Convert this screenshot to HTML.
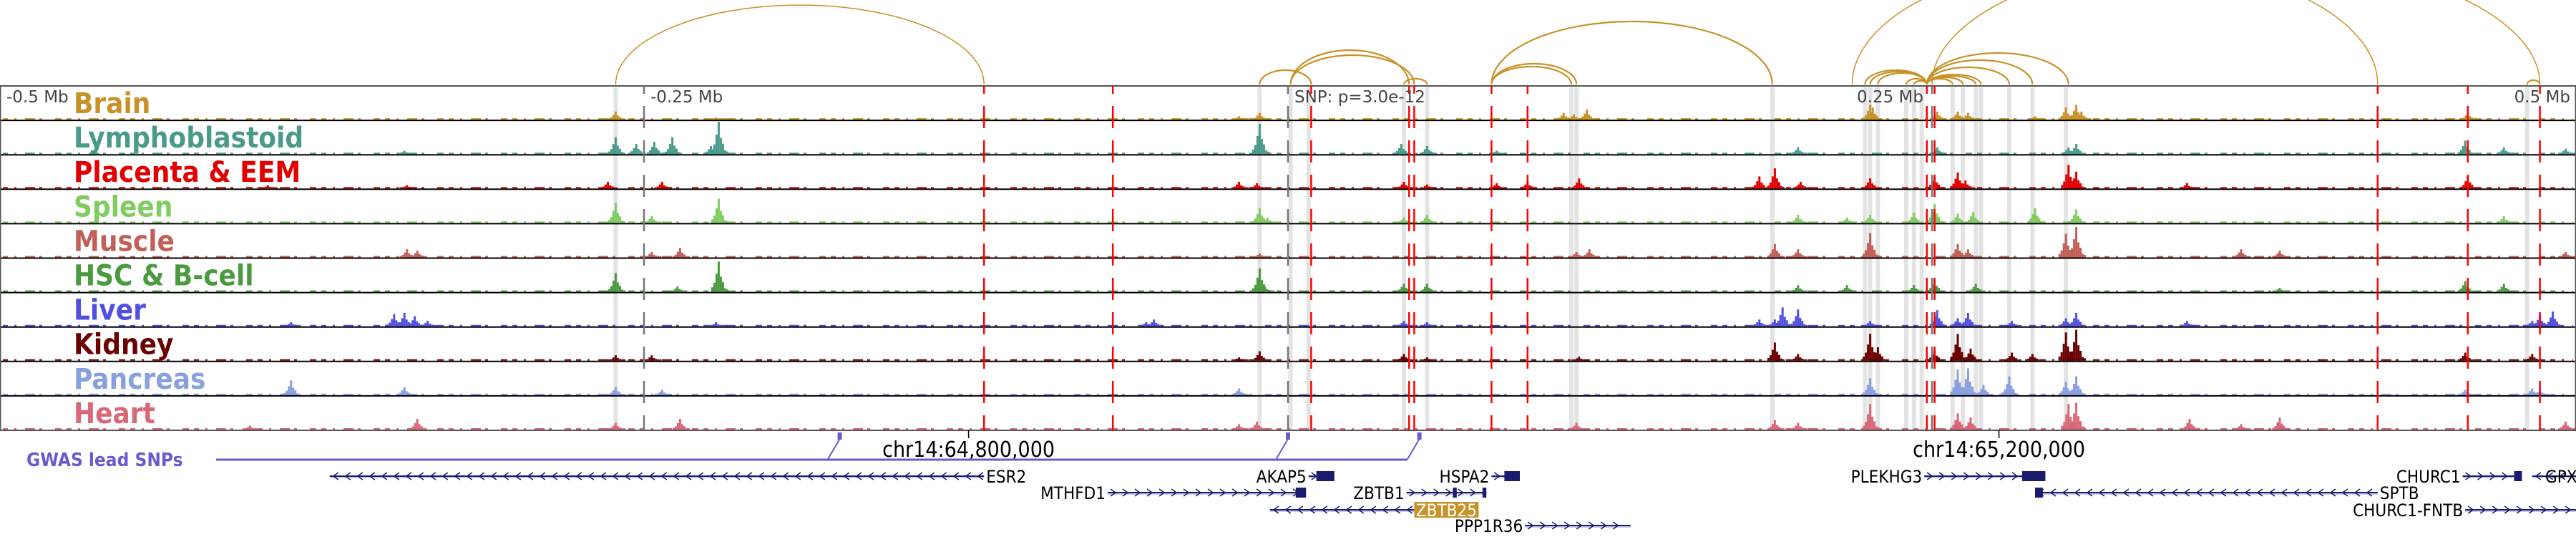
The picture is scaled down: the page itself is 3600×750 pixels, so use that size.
<!DOCTYPE html>
<html><head><meta charset="utf-8">
<style>
html,body{margin:0;padding:0;background:#fff;width:3600px;height:750px;overflow:hidden}
svg{display:block}
.tl{font-family:"DejaVu Sans Condensed","DejaVu Sans","Liberation Sans",sans-serif;font-weight:bold;font-size:40px}
.ax{font-family:"DejaVu Sans","Liberation Sans",sans-serif;font-size:23px;fill:#444}
.gn{font-family:"DejaVu Sans Condensed","DejaVu Sans","Liberation Sans",sans-serif;font-size:24px;fill:#000}
</style></head><body>
<svg id="fig" width="3600" height="750" viewBox="0 0 3600 750" xmlns="http://www.w3.org/2000/svg">
</svg>
<script>
// ---- data (positions in kb relative to lead SNP, heights in signal units 0-48) ----
const trackNames = ["Brain","Lymphoblastoid","Placenta & EEM","Spleen","Muscle","HSC & B-cell","Liver","Kidney","Pancreas","Heart"];
const trackColors = ["#c8922a","#4a9a8a","#e00000","#80cc60","#c06058","#4a9a40","#5050e0","#6a0000","#88a0e0","#d86878"];
const brainPeaks = [[-261,12],[-222,3],[-19,5],[-11,10],[107,10],[111,8],[116,15],[226,22],[227,18],[252,12],[260,12],[264,10],[290,5],[302,18],[306,22],[308,12],[458,10]];
const lymphoPeaks = [[-343,5],[-261,25],[-253,15],[-246,18],[-239,25],[-224,12],[-221,48],[-11,45],[44,15],[54,12],[81,5],[198,10],[252,10],[303,10],[306,15],[457,20],[472,10],[496,8]];
const placentaPeaks = [[-396,5],[-342,5],[-264,10],[-243,10],[-19,10],[-12,8],[45,10],[54,6],[81,8],[93,10],[113,15],[183,18],[189,30],[199,10],[226,15],[251,18],[260,24],[263,12],[303,35],[306,25],[349,8],[458,18]];
const spleenPeaks = [[-261,30],[-247,10],[-221,36],[-11,22],[-8,8],[45,8],[54,12],[198,12],[217,8],[226,12],[243,15],[251,28],[260,14],[266,16],[290,22],[306,20],[472,10]];
const musclePeaks = [[-342,12],[-338,10],[-247,8],[-236,14],[-11,6],[112,8],[117,12],[189,20],[198,12],[226,36],[260,20],[264,12],[302,35],[306,45],[370,12],[385,10],[496,8]];
const hscPeaks = [[-261,28],[-237,8],[-221,45],[-11,35],[-9,8],[45,12],[54,12],[198,10],[217,10],[243,10],[251,18],[267,12],[385,6],[457,16],[472,12]];
const liverPeaks = [[-387,6],[-347,18],[-343,20],[-339,15],[-334,8],[-222,6],[-55,6],[-52,10],[45,8],[54,6],[183,10],[189,10],[192,28],[198,25],[226,8],[252,24],[260,12],[264,20],[281,8],[302,12],[306,20],[349,8],[483,8],[486,16],[491,22]];
const kidneyPeaks = [[-261,8],[-247,8],[-19,5],[-11,14],[45,10],[54,5],[113,6],[189,27],[198,10],[226,40],[229,20],[251,15],[260,40],[265,18],[281,12],[289,10],[302,42],[306,46],[457,12],[483,10]];
const pancreasPeaks = [[-387,22],[-343,12],[-261,12],[-243,8],[-19,10],[226,25],[260,38],[264,40],[270,15],[280,28],[302,20],[306,28],[457,8],[483,10],[486,8]];
const heartPeaks = [[-403,6],[-338,16],[-261,10],[-236,16],[-19,8],[-12,12],[112,10],[189,14],[198,10],[226,38],[260,24],[265,18],[303,38],[306,40],[350,16],[370,8],[385,18],[496,12]];
const allPeaks = [brainPeaks,lymphoPeaks,placentaPeaks,spleenPeaks,musclePeaks,hscPeaks,liverPeaks,kidneyPeaks,pancreasPeaks,heartPeaks];
const redLines = [-118,-68,9,47,49,79,93,248,251,423,458,486];
const greyBands = [-261,-11,1,8,45,54,110,112,188,224,226,229,240,243,246,258,262,267,269,280,289,302,481];
const axisTicks = [-250,0,250];
const axisLabels = ["-0.5 Mb","-0.25 Mb","SNP: p=3.0e-12","0.25 Mb","0.5 Mb"];
const axisLabelPos = [-500,-250,0,250,500];
const arcStarts = [-261,-11,1,1,45,79,79,79,219,250,481,224,226,229,240,243,248,248,248,248,248,248,248];
const arcEnds   = [-118,9,47,49,54,112,110,188,423,486,486,248,248,248,248,248,269,267,262,258,289,303,280];
const arcHeights= [111,20,48,41,8,29,25,88,175,180,6,20,18,16,8,5,14,12,10,8,34,44,24];
const snpPos = [-174,0,51];
const geneNames = ["ESR2","MTHFD1","AKAP5","HSPA2","ZBTB1","ZBTB25","PPP1R36","PLEKHG3","SPTB","CHURC1","GPX","CHURC1-FNTB"];
const geneStart = [-372,-70,8,79,46,-7,92,247,290,456,483,457];
const geneEnd   = [-118,7,18,90,77,49,133,294,423,479,500,500];
const geneStrand= [-1,1,1,1,1,-1,1,1,-1,1,-1,1];
const geneRow   = [0,1,0,0,1,2,3,0,1,0,0,2];
const geneLabelSide = ["R","L","L","L","L","R","L","L","R","L","R","L"];
const geneExons = [[],[[3,7]],[[11,18]],[[84,90]],[[64,65.5],[75.5,77]],[],[],[[285,294]],[[290,293]],[[476,479]],[],[]];

// ---- scales ----
const X0 = 1800, PXKB = 3.6;
function xs(kb){ return X0 + kb*PXKB; }
const TOP = 120, TH = 48.1;
function trackTop(i){ return TOP + i*TH; }
function ys(i,v){ return trackTop(i)+TH-1 - v*(TH-3)/48; }

const NS="http://www.w3.org/2000/svg";
const svg=document.getElementById('fig');
function mk(tag,attrs,parent){const e=document.createElementNS(NS,tag);for(const k in attrs)e.setAttribute(k,attrs[k]);(parent||svg).appendChild(e);return e;}

// grey bands
const gB = mk('g',{});


greyBands.forEach(b=>{
  const r=mk('rect',{x:xs(b)-3,y:TOP+2,width:6,height:TH*10-2,fill:'#e3e3e3'},gB);
  
  
});

// tracks
for(let i=0;i<10;i++){
  const g=mk('g',{});
  
  
  const base=trackTop(i)+TH-2;
  const bl=mk('line',{x1:4,x2:3596,y1:base,y2:base,stroke:trackColors[i],'stroke-width':2,'stroke-dasharray':'7 9 3 12 14 6 4 18 9 7'},g);
  
  
  allPeaks[i].forEach(p=>{
    const cx=xs(p[0]), h=p[1];
    [[0,1],[-3,0.6],[3,0.5],[-6,0.3],[6,0.32],[-9,0.15],[9,0.12],[12,0.08]].forEach(s=>{
      const hh=Math.max(2,h*s[1]);
      const r=mk('rect',{x:cx+s[0]-1.5,y:ys(i,hh),width:3,height:trackTop(i)+TH-1-ys(i,hh),fill:trackColors[i]},g);
      
      
    });
  });
  const sep=mk('line',{x1:0,x2:3600,y1:trackTop(i)+TH,y2:trackTop(i)+TH,stroke:'#000','stroke-width':2},g);
  
  
  const t=mk('text',{x:103,y:trackTop(i)+38,class:'tl',fill:trackColors[i]},g);
  t.textContent=trackNames[i];
  
  
}
const fr=mk('rect',{x:0.5,y:TOP,width:3599,height:TH*10,fill:'none',stroke:'#555','stroke-width':2});



axisTicks.forEach(a=>{
  const l=mk('line',{x1:xs(a),x2:xs(a),y1:TOP,y2:TOP+TH*10,stroke:'#777','stroke-width':2.5,'stroke-dasharray':'31 17','stroke-dashoffset':20});
  
  
});
redLines.forEach(a=>{
  const l=mk('line',{x1:xs(a),x2:xs(a),y1:TOP,y2:TOP+TH*10,stroke:'#ff0000','stroke-width':2.5,'stroke-dasharray':'31 17','stroke-dashoffset':20});
  
  
});
axisLabels.forEach((s,k)=>{
  let x=xs(axisLabelPos[k])+9, anchor='start';
  if(k===3){x=xs(axisLabelPos[k])-12;anchor='end';}
  if(k===4){x=3592;anchor='end';}
  const t=mk('text',{x:x,y:143,class:'ax','text-anchor':anchor});
  t.textContent=s;
  
  
});

const gA=mk('g',{fill:'none',stroke:'#c8922a'});


for(let k=0;k<arcStarts.length;k++){
  const x1=xs(arcStarts[k]),x2=xs(arcEnds[k]),h=arcHeights[k],rx=(x2-x1)/2;
  const a=mk('path',{d:`M${x1},118 A${rx},${h} 0 0 1 ${x2},118`,'stroke-width':h>100?1.5:2.2},gA);
  
  
}

[[-124,'chr14:64,800,000'],[276,'chr14:65,200,000']].forEach(c=>{
  const l=mk('line',{x1:xs(c[0]),x2:xs(c[0]),y1:601,y2:612,stroke:'#000','stroke-width':1.5});
  
  
  const t=mk('text',{x:xs(c[0]),y:638,'text-anchor':'middle',class:'gn',style:'font-size:30px'});
  t.textContent=c[1];
  
  
});

const gw=mk('text',{x:37,y:651,class:'tl',fill:'#6a5acd',style:'font-size:26px'});
gw.textContent='GWAS lead SNPs';


const lastSnp=xs(snpPos[snpPos.length-1])-17;
const gl=mk('line',{x1:302,x2:lastSnp,y1:642,y2:642,stroke:'#6a5acd','stroke-width':3});


snpPos.forEach(s=>{
  const x=xs(s);
  const l=mk('line',{x1:x,y1:613,x2:x-17,y2:642,stroke:'#6a5acd','stroke-width':2});
  
  
  const r=mk('rect',{x:x-3,y:604,width:6,height:10,fill:'#6a5acd'});
  
  
});

const rowY=[665,688,712,734];
geneNames.forEach((n,k)=>{
  const g=mk('g',{});
  
  
  const y=rowY[geneRow[k]], x1=xs(geneStart[k]), x2=xs(geneEnd[k]);
  mk('line',{x1:x1,x2:x2,y1:y,y2:y,stroke:'#1a1a6e','stroke-width':2},g);
  mk('line',{x1:x1,x2:x2,y1:y+2,y2:y+2,stroke:'#9999cc','stroke-width':1},g);
  const d=geneStrand[k];
  let p='';
  for(let x=x1+8;x<x2-4;x+=17){ p+=`M${x-d*4},${y-5} L${x+d*3},${y} L${x-d*4},${y+5} `; }
  if(p) mk('path',{d:p,fill:'none',stroke:'#1a1a6e','stroke-width':1.5},g);
  geneExons[k].forEach(e=>{ mk('rect',{x:xs(e[0]),y:y-7,width:Math.max(4,xs(e[1])-xs(e[0])),height:14,fill:'#1a1a6e'},g); });
  const right=geneLabelSide[k]==='R';
  if(n==='ZBTB25'){
    mk('rect',{x:x2,y:y-11,width:90,height:22,fill:'#c8922a'},g);
    const t=mk('text',{x:x2+45,y:y+9,'text-anchor':'middle',class:'gn',style:'fill:#fff'},g);
    t.textContent=n;
  } else if(n==='GPX'){
    const t=mk('text',{x:3557,y:y+9,class:'gn'},g);
    t.textContent=n;
  } else {
    const t=mk('text',{x:right?x2+3:x1-3,y:y+9,'text-anchor':right?'start':'end',class:'gn'},g);
    t.textContent=n;
  }
});
</script>
</body></html>
